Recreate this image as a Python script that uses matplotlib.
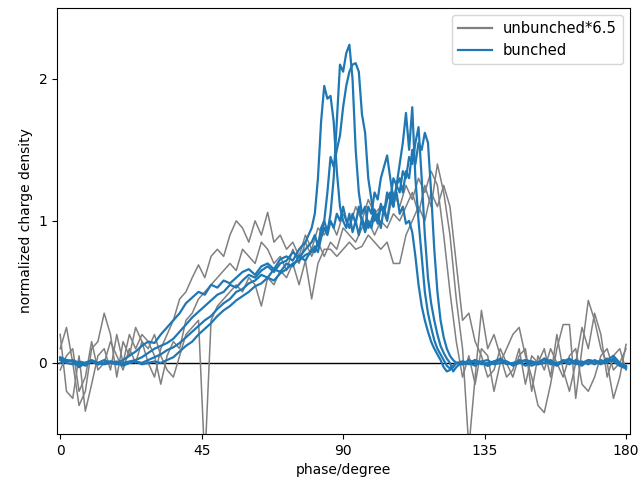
import numpy as np
import matplotlib
matplotlib.use('Agg')
import matplotlib.pyplot as plt

# phase grid (degrees)
phase_u = np.arange(0, 181, 2)
phase_b = np.concatenate([np.arange(0, 81, 2), np.arange(81, 127, 1), np.arange(128, 181, 2)])

# unbunched traces (already scaled by 6.5)
unbunched_1 = [0.1, 0.25, 0.0, -0.3, -0.2, 0.1, 0.15, 0.35, 0.2, -0.1,
               0.15, 0.05, 0.25, 0.15, 0.0, -0.1, 0.1, 0.2, 0.3, 0.45,
               0.5, 0.6, 0.69, 0.6, 0.75, 0.8, 0.75, 0.9, 1.0, 0.95,
               0.85, 1.0, 0.9, 1.06, 0.85, 0.9, 0.8, 0.85, 0.75, 0.9,
               0.8, 0.95, 0.9, 1.0, 0.9, 1.05, 0.95, 1.1, 1.0, 1.15,
               1.05, 1.1, 1.0, 1.2, 1.1, 1.25, 1.15, 1.3, 1.2, 1.35,
               1.25, 0.9, 0.5, 0.15, -0.1, 0.05, -0.15, 0.1, 0.05, -0.2,
               0.0, 0.1, 0.2, 0.25, 0.05, -0.1, -0.3, -0.35, -0.15, 0.1,
               0.27, 0.27, -0.25, 0.1, 0.44, 0.3, 0.1, 0.0, -0.25, -0.1,
               0.13]
unbunched_2 = [0.2, -0.2, -0.25, 0.05, -0.34, -0.15, 0.05, 0.1, -0.05, 0.2,
               0.0, 0.2, 0.1, 0.2, 0.15, 0.05, -0.15, 0.05, 0.15, 0.1,
               0.3, 0.35, 0.45, 0.5, 0.55, 0.6, 0.65, 0.7, 0.65, 0.8,
               0.75, 0.7, 0.85, 0.8, 0.7, 0.75, 0.65, 0.8, 0.7, 0.85,
               0.75, 0.85, 0.75, 0.85, 0.8, 0.95, 0.9, 0.85, 0.95, 1.0,
               0.9, 1.0, 0.95, 1.05, 1.0, 1.1, 1.2, 1.05, 1.25, 1.1,
               1.4, 1.2, 0.9, 0.45, 0.1, -0.6, -0.1, 0.37, 0.1, 0.2,
               0.05, -0.1, -0.05, 0.1, -0.15, 0.05, 0.0, 0.1, -0.1, 0.2,
               -0.05, -0.2, 0.0, 0.25, 0.1, 0.35, 0.2, -0.1, 0.05, 0.1,
               -0.05]
unbunched_3 = [-0.05, 0.05, 0.1, -0.2, -0.1, 0.15, -0.05, 0.0, 0.15, 0.05,
               -0.05, 0.1, 0.0, 0.15, 0.1, 0.2, 0.05, -0.05, -0.1, 0.05,
               0.2, 0.25, 0.3, -0.7, 0.3, 0.4, 0.45, 0.5, 0.55, 0.5,
               0.6, 0.55, 0.4, 0.6, 0.55, 0.65, 0.6, 0.7, 0.55, 0.72,
               0.45, 0.7, 0.8, 0.8, 0.75, 0.8, 0.85, 0.8, 0.82, 0.9,
               0.85, 0.8, 0.85, 0.7, 0.7, 0.9, 1.0, 1.1, 1.0, 1.2,
               1.1, 1.25, 1.1, 0.7, 0.3, 0.35, 0.15, 0.05, -0.1, -0.05,
               0.1, 0.0, -0.1, 0.05, 0.1, -0.2, 0.05, -0.05, 0.1, 0.0,
               -0.1, 0.05, 0.1, -0.15, -0.2, -0.1, 0.05, 0.1, -0.05, 0.0,
               0.1]

# bunched traces
bunched_1 = [0.04, 0.02, 0.01, -0.03, 0.0, 0.01, -0.01, 0.0, 0.01, 0.0,
             0.02, 0.05, 0.08, 0.12, 0.15, 0.14, 0.2, 0.25, 0.3, 0.35,
             0.42, 0.46, 0.5, 0.48, 0.55, 0.53, 0.58, 0.56, 0.6, 0.64,
             0.66, 0.62, 0.68, 0.7, 0.66, 0.73, 0.75, 0.72, 0.8, 0.85,
             0.95,
             1.05, 1.3, 1.7, 1.95, 1.86, 1.88, 1.7, 1.35, 1.1, 1.0,
             0.95, 1.05, 0.92, 1.0, 0.9, 1.02, 0.95, 1.1, 1.05, 1.2,
             1.15, 1.3, 1.38, 1.46, 1.3, 1.15, 1.2, 1.05, 1.1, 0.98,
             1.0, 0.92, 0.75, 0.55, 0.4, 0.3, 0.22, 0.15, 0.1, 0.06,
             0.02, -0.03, -0.06, -0.05, -0.02, 0.0,
             0.01, -0.01, 0.02, 0.0, -0.02, 0.01, 0.03, 0.0, -0.01, 0.02,
             0.01, -0.02, 0.0, 0.03, 0.01, -0.01, 0.02, 0.0, 0.01, -0.02,
             0.02, 0.01, 0.0, 0.03, 0.01, -0.02, -0.04]
bunched_2 = [0.03, 0.01, 0.02, 0.0, -0.02, 0.01, 0.0, 0.02, 0.0, -0.01,
             0.0, 0.01, 0.02, 0.04, 0.07, 0.1, 0.12, 0.14, 0.17, 0.22,
             0.27, 0.32, 0.36, 0.4, 0.44, 0.48, 0.5, 0.55, 0.53, 0.58,
             0.62, 0.6, 0.65, 0.68, 0.64, 0.7, 0.72, 0.78, 0.74, 0.8,
             0.85,
             0.9, 0.82, 0.95, 1.0, 0.92, 1.05, 1.3, 1.7, 2.1, 2.05,
             2.18, 2.24, 2.0, 1.5, 1.2, 1.05, 1.1, 0.95, 1.0, 1.08,
             0.98, 1.1, 1.05, 1.2, 1.15, 1.3, 1.25, 1.4, 1.55, 1.76,
             1.5, 1.8, 1.3, 1.0, 0.75, 0.5, 0.35, 0.25, 0.16, 0.1,
             0.06, 0.02, -0.02, -0.04, -0.03, 0.0,
             -0.01, 0.02, 0.0, 0.01, -0.02, 0.0, 0.02, 0.01, -0.01, 0.0,
             0.02, 0.01, -0.01, 0.0, 0.02, -0.01, 0.01, 0.03, 0.0, 0.01,
             -0.01, 0.02, 0.0, 0.01, 0.02, -0.01, -0.02]
bunched_3 = [0.02, 0.0, -0.01, 0.01, 0.0, 0.02, 0.0, -0.01, 0.0, 0.01,
             -0.01, 0.0, 0.01, 0.0, 0.02, 0.04, 0.06, 0.09, 0.11, 0.14,
             0.18, 0.22, 0.26, 0.3, 0.33, 0.38, 0.42, 0.45, 0.5, 0.52,
             0.56, 0.58, 0.62, 0.6, 0.66, 0.64, 0.7, 0.68, 0.75, 0.72,
             0.8,
             0.78, 0.85, 0.9, 1.0, 1.2, 1.45, 1.38, 1.5, 1.6, 1.8,
             1.95, 2.05, 2.1, 2.11, 2.05, 1.75, 1.62, 1.3, 1.15, 1.0,
             1.05, 0.95, 1.1, 1.0, 1.15, 1.1, 1.25, 1.2, 1.35, 1.3,
             1.45, 1.4, 1.55, 1.66, 1.3, 0.9, 0.6, 0.42, 0.3, 0.2,
             0.12, 0.07, 0.03, 0.0, -0.06, -0.03,
             0.01, 0.0, -0.02, 0.01, 0.02, -0.01, 0.0, 0.01, -0.02, 0.0,
             0.02, 0.0, -0.01, 0.03, 0.0, -0.02, 0.01, 0.02, -0.01, 0.0,
             0.02, 0.01, -0.01, 0.02, 0.05, 0.0, -0.03]
bunched_4 = [0.0, 0.02, 0.01, -0.02, 0.0, 0.01, -0.01, 0.0, 0.01, 0.0,
             -0.02, 0.0, 0.01, -0.01, 0.0, 0.01, 0.0, 0.02, 0.04, 0.08,
             0.12, 0.15, 0.2, 0.24, 0.28, 0.33, 0.37, 0.4, 0.44, 0.47,
             0.5, 0.54, 0.56, 0.6, 0.58, 0.63, 0.66, 0.7, 0.72, 0.76,
             0.78,
             0.82, 0.78, 0.88, 0.95, 0.9, 1.0, 0.95, 1.05, 1.0, 1.1,
             1.0, 0.95, 1.05, 0.98, 1.1, 1.0, 0.92, 1.0, 0.95, 1.05,
             1.0, 1.12, 1.05, 1.15, 1.2, 1.1, 1.25, 1.3, 1.2, 1.35,
             1.3, 1.5, 1.4, 1.55, 1.5, 1.62, 1.55, 1.2, 0.8, 0.5,
             0.3, 0.18, 0.1, 0.05, 0.02, 0.0,
             -0.01, 0.0, 0.02, -0.01, 0.0, 0.01, 0.02, -0.01, 0.0, 0.01,
             -0.02, 0.01, 0.0, 0.02, -0.01, 0.0, 0.01, -0.01, 0.02, 0.0,
             0.01, -0.01, 0.02, 0.0, 0.03, -0.02, -0.03]

unbunched = [unbunched_1, unbunched_2, unbunched_3]
bunched = [bunched_1, bunched_2, bunched_3, bunched_4]

fig, ax = plt.subplots(figsize=(6.41, 4.87), dpi=100)
ax.axhline(0, color='black', linewidth=1)

for i, y in enumerate(unbunched):
    ax.plot(phase_u, y, color='gray', linewidth=1.1,
            label='unbunched*6.5' if i == 0 else None)
for i, y in enumerate(bunched):
    ax.plot(phase_b, y, color='#1f77b4', linewidth=1.6,
            label='bunched' if i == 0 else None)

ax.set_xlim(-1, 181.3)
ax.set_ylim(-0.5, 2.5)
ax.set_xticks([0, 45, 90, 135, 180])
ax.set_yticks([0, 1, 2])
ax.set_xlabel('phase/degree')
ax.set_ylabel('normalized charge density')
leg = ax.legend(loc='upper right', fontsize=10.6, handlelength=2.3, handletextpad=0.75)
for line in leg.get_lines():
    line.set_linewidth(1.6)

plt.subplots_adjust(left=0.089, right=0.983, top=0.984, bottom=0.109)
plt.savefig('out.png')
